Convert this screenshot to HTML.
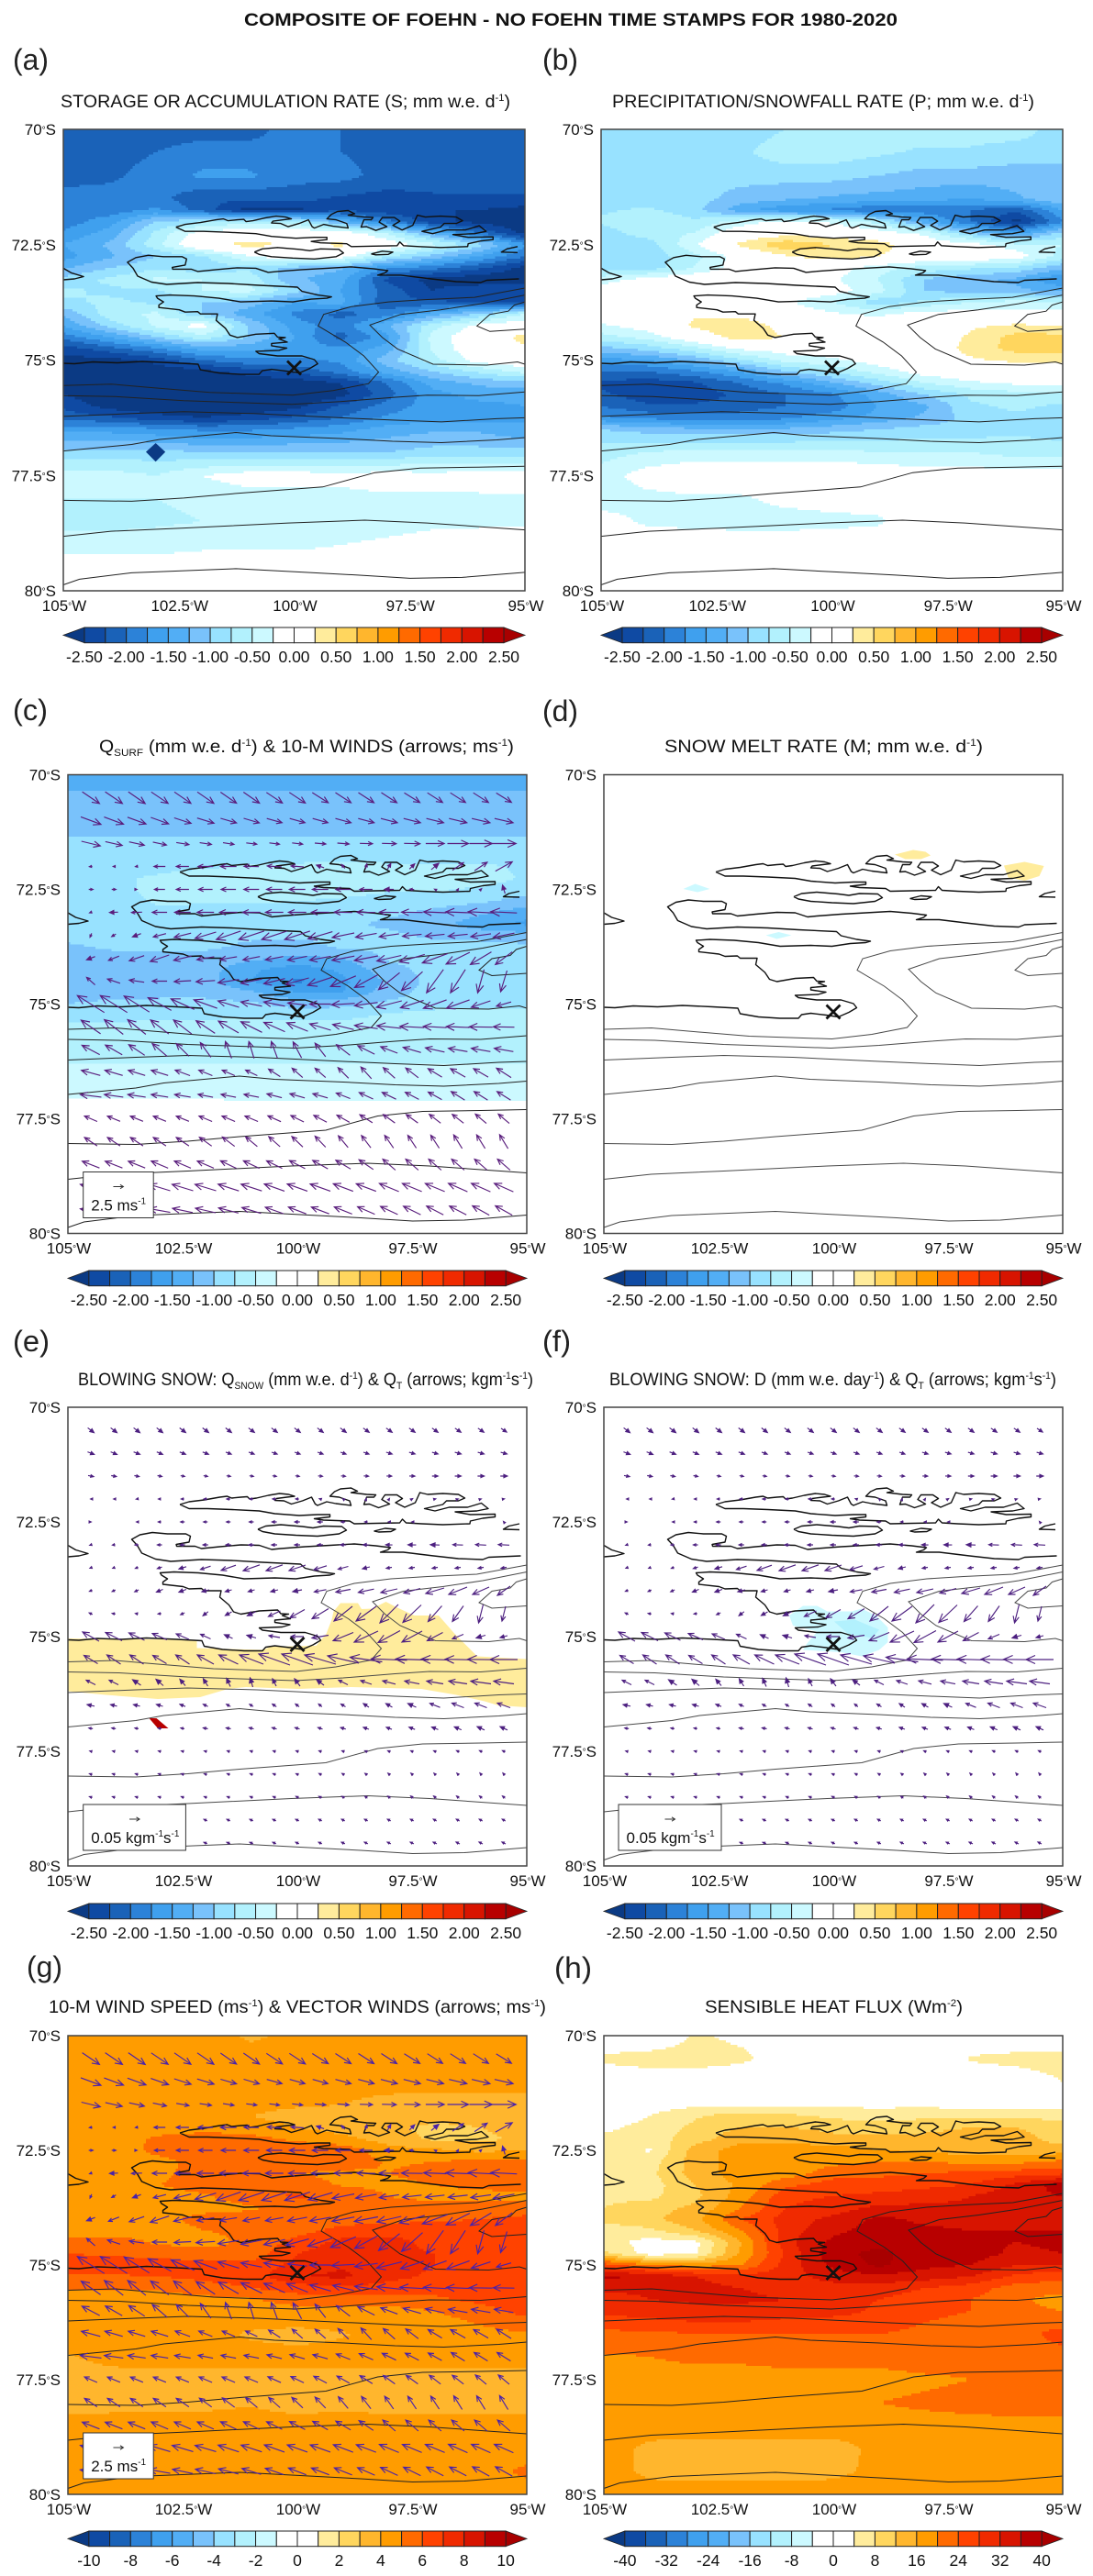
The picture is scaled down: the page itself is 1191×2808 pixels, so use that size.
<!DOCTYPE html>
<html lang="en">
<head>
<meta charset="utf-8">
<title>Composite of Foehn - No Foehn Time Stamps</title>
<style>
html,body{margin:0;padding:0;background:#fff;}
svg{display:block;font-family:"Liberation Sans",sans-serif;}
.ttl{font-size:19.5px;fill:#111;}
.sm{font-size:11px;}
.plbl{font-size:32px;fill:#222;}
</style>
</head>
<body>
<svg id="figure" xmlns="http://www.w3.org/2000/svg" width="1191" height="2808" viewBox="0 0 1191 2808">
<rect x="0" y="0" width="1191" height="2808" fill="#fff"/>
<text x="266" y="28" font-size="19.5" font-weight="bold" fill="#111" textLength="712" lengthAdjust="spacingAndGlyphs">COMPOSITE OF FOEHN - NO FOEHN TIME STAMPS FOR 1980-2020</text>

<text class="plbl" x="14" y="76" textLength="39" lengthAdjust="spacingAndGlyphs">(a)</text>
<text class="plbl" x="591" y="76" textLength="39" lengthAdjust="spacingAndGlyphs">(b)</text>
<text class="plbl" x="14" y="785" textLength="38" lengthAdjust="spacingAndGlyphs">(c)</text>
<text class="plbl" x="591" y="786" textLength="39" lengthAdjust="spacingAndGlyphs">(d)</text>
<text class="plbl" x="14" y="1473" textLength="40" lengthAdjust="spacingAndGlyphs">(e)</text>
<text class="plbl" x="591" y="1473" textLength="31" lengthAdjust="spacingAndGlyphs">(f)</text>
<text class="plbl" x="29" y="2155" textLength="39" lengthAdjust="spacingAndGlyphs">(g)</text>
<text class="plbl" x="604" y="2156" textLength="41" lengthAdjust="spacingAndGlyphs">(h)</text>

<text class="ttl" x="66" y="117" textLength="490" lengthAdjust="spacingAndGlyphs">STORAGE OR ACCUMULATION RATE (S; mm w.e. d<tspan class="sm" dy="-7">-1</tspan><tspan dy="7">)</tspan></text>
<text class="ttl" x="667" y="117" textLength="460" lengthAdjust="spacingAndGlyphs">PRECIPITATION/SNOWFALL RATE (P; mm w.e. d<tspan class="sm" dy="-7">-1</tspan><tspan dy="7">)</tspan></text>
<text class="ttl" x="108" y="820" textLength="452" lengthAdjust="spacingAndGlyphs">Q<tspan class="sm" dy="4">SURF</tspan><tspan dy="-4"> (mm w.e. d</tspan><tspan class="sm" dy="-7">-1</tspan><tspan dy="7">) &amp; 10-M WINDS (arrows; ms</tspan><tspan class="sm" dy="-7">-1</tspan><tspan dy="7">)</tspan></text>
<text class="ttl" x="724" y="820" textLength="347" lengthAdjust="spacingAndGlyphs">SNOW MELT RATE (M; mm w.e. d<tspan class="sm" dy="-7">-1</tspan><tspan dy="7">)</tspan></text>
<text class="ttl" x="85" y="1510" textLength="496" lengthAdjust="spacingAndGlyphs">BLOWING SNOW: Q<tspan class="sm" dy="4">SNOW</tspan><tspan dy="-4"> (mm w.e. d</tspan><tspan class="sm" dy="-7">-1</tspan><tspan dy="7">) &amp; Q</tspan><tspan class="sm" dy="4">T</tspan><tspan dy="-4"> (arrows; kgm</tspan><tspan class="sm" dy="-7">-1</tspan><tspan dy="7">s</tspan><tspan class="sm" dy="-7">-1</tspan><tspan dy="7">)</tspan></text>
<text class="ttl" x="664" y="1510" textLength="487" lengthAdjust="spacingAndGlyphs">BLOWING SNOW: D (mm w.e. day<tspan class="sm" dy="-7">-1</tspan><tspan dy="7">) &amp; Q</tspan><tspan class="sm" dy="4">T</tspan><tspan dy="-4"> (arrows; kgm</tspan><tspan class="sm" dy="-7">-1</tspan><tspan dy="7">s</tspan><tspan class="sm" dy="-7">-1</tspan><tspan dy="7">)</tspan></text>
<text class="ttl" x="53" y="2194" textLength="542" lengthAdjust="spacingAndGlyphs">10-M WIND SPEED (ms<tspan class="sm" dy="-7">-1</tspan><tspan dy="7">) &amp; VECTOR WINDS (arrows; ms</tspan><tspan class="sm" dy="-7">-1</tspan><tspan dy="7">)</tspan></text>
<text class="ttl" x="768" y="2194" textLength="281" lengthAdjust="spacingAndGlyphs">SENSIBLE HEAT FLUX (Wm<tspan class="sm" dy="-7">-2</tspan><tspan dy="7">)</tspan></text>
</svg>

<script>
/* ---------- axis data ---------- */
const gridLons = [105,104,103,102,101,100,99,98,97,96,95];
const gridLats = [70,70.5,71,71.5,71.75,72,72.25,72.5,72.75,73,73.25,73.5,73.75,74,74.25,74.5,74.75,75,75.25,75.5,75.75,76,76.25,76.5,77,77.5,78,78.5,79,79.5,80];
const vectorLons = [104.5,104,103.5,103,102.5,102,101.5,101,100.5,100,99.5,99,98.5,98,97.5,97,96.5,96,95.5];
const vectorLats = [70.5,71,71.5,72,72.5,73,73.5,74,74.5,75,75.5,76,76.5,77,77.5,78,78.5,79,79.5];
const lonTicks = [105,102.5,100,97.5,95];
const lonTickLabels = ['105','102.5','100','97.5','95'];
const latTicks = [70,72.5,75,77.5,80];
const latTickLabels = ['70','72.5','75','77.5','80'];
const massBarTicks = [-2.5,-2,-1.5,-1,-0.5,0,0.5,1,1.5,2,2.5];
const massBarLabels = ['-2.50','-2.00','-1.50','-1.00','-0.50','0.00','0.50','1.00','1.50','2.00','2.50'];
const speedBarTicks = [-10,-8,-6,-4,-2,0,2,4,6,8,10];
const speedBarLabels = ['-10','-8','-6','-4','-2','0','2','4','6','8','10'];
const heatBarTicks = [-40,-32,-24,-16,-8,0,8,16,24,32,40];
const heatBarLabels = ['-40','-32','-24','-16','-8','0','8','16','24','32','40'];
const bandColors = ['#0b3a84','#0f4aa3','#1a62b8','#2c82d8','#3fa0ee','#52aef5','#79c2fb','#98e2ff','#b2f1fd','#ccf9ff','#ffffff','#ffffff','#ffec9c','#ffd65e','#ffb62d','#ff9c00','#ff6a00','#ff4200','#f02a00','#d81400','#b80000','#a80000'];

/* ---------- S : storage / accumulation rate ---------- */
const fieldS = [
[-2.1,-2.1,-2.1,-2.1,-2.1,-1.9,-2.0,-2.1,-2.1,-2.1,-2.1],
[-2.1,-2.1,-2.0,-1.9,-1.9,-1.9,-2.0,-2.1,-2.1,-2.1,-2.1],
[-2.1,-2.05,-1.9,-1.7,-1.7,-1.9,-1.9,-2.1,-2.1,-2.1,-2.1],
[-1.9,-1.9,-1.9,-2.2,-2.2,-2.15,-2.3,-2.35,-2.3,-2.3,-2.3],
[-1.9,-1.9,-1.7,-2.1,-2.6,-2.6,-2.3,-2.4,-2.5,-2.5,-2.6],
[-1.9,-1.6,-1.0,-0.8,-0.6,-0.6,-1.3,-1.9,-2.4,-2.6,-2.7],
[-1.7,-1.4,-0.7,-0.1,0,0,0,-0.5,-1.3,-2.0,-2.6],
[-1.5,-1.2,-0.6,0.1,0.35,0.2,0.3,0,-0.4,-0.9,-1.7],
[-1.6,-1.3,-1.0,-0.8,-0.3,0,-0.1,-0.7,-1.1,-1.5,-2.0],
[-1.3,-1.0,-0.8,-0.9,-0.8,-1.1,-1.2,-1.7,-1.9,-2.2,-2.6],
[-0.9,-0.7,-0.45,-0.5,-0.6,-1.2,-1.4,-2.3,-2.6,-2.7,-2.7],
[-0.7,-0.8,-0.8,-0.5,-0.4,-0.9,-1.5,-2.1,-2.5,-2.3,-2.3],
[-0.8,-0.7,-0.8,-1.0,-1.1,-1.5,-1.4,-2.2,-2.2,-2.3,-2.4],
[-1.2,-0.6,-0.45,-1.0,-1.4,-1.8,-2.1,-1.9,-1.4,-1.0,-0.5],
[-1.5,-0.9,-0.45,-0.1,-1.0,-1.6,-1.9,-1.3,-0.6,-0.15,0],
[-1.9,-1.5,-1.0,-0.6,-1.0,-1.5,-2.1,-1.6,-0.4,0,0.35],
[-2.4,-2.1,-1.8,-1.4,-1.4,-1.6,-1.7,-1.4,-0.45,0,0.2],
[-2.6,-2.6,-2.4,-2.0,-1.8,-1.8,-1.7,-1.1,-0.6,-0.1,0],
[-2.7,-2.7,-2.7,-2.6,-2.4,-2.2,-1.9,-1.4,-1.0,-0.7,-0.4],
[-2.7,-2.7,-2.7,-2.7,-2.7,-2.7,-2.5,-2.0,-1.4,-1.2,-1.1],
[-2.5,-2.7,-2.7,-2.7,-2.7,-2.7,-2.6,-2.1,-1.6,-1.4,-1.4],
[-2.3,-2.6,-2.7,-2.7,-2.7,-2.6,-2.2,-1.9,-1.6,-1.6,-1.5],
[-2.1,-2.2,-2.4,-2.5,-2.4,-2.2,-2.0,-1.7,-1.6,-1.6,-1.5],
[-1.6,-1.6,-1.7,-1.8,-1.8,-1.7,-1.6,-1.4,-1.3,-1.3,-1.5],
[-0.9,-0.9,-0.9,-1.0,-1.0,-1.0,-1.0,-1.0,-0.9,-0.9,-0.9],
[-0.4,-0.4,-0.5,-0.25,-0.1,-0.1,-0.15,-0.1,-0.15,-0.1,-0.1],
[-0.5,-0.5,-0.5,-0.45,-0.4,-0.4,-0.35,-0.3,-0.3,-0.3,-0.3],
[-0.6,-0.6,-0.55,-0.5,-0.45,-0.45,-0.4,-0.35,-0.3,-0.3,-0.3],
[-0.35,-0.35,-0.35,-0.3,-0.3,-0.3,-0.25,-0.2,-0.15,-0.1,-0.1],
[-0.1,-0.1,-0.1,-0.1,-0.1,-0.1,-0.1,-0.1,-0.1,-0.1,-0.1],
[0,0,0,0,0,0,0,0,0,0,0]];

/* ---------- P : precipitation / snowfall ---------- */
const fieldP = [
[-0.9,-0.9,-0.9,-0.9,-0.75,-0.6,-0.6,-0.6,-0.6,-0.6,-0.9],
[-0.9,-0.9,-0.9,-0.8,-0.6,-0.6,-0.7,-0.8,-0.8,-0.9,-0.9],
[-0.9,-0.9,-0.9,-0.9,-0.9,-0.9,-1.0,-1.1,-1.1,-1.1,-1.1],
[-0.9,-0.9,-0.9,-1.1,-1.2,-1.3,-1.35,-1.4,-1.5,-1.3,-1.0],
[-0.8,-0.7,-0.9,-1.4,-1.7,-1.8,-2.0,-1.9,-2.0,-2.2,-1.5],
[-0.7,-0.5,-0.7,-0.4,-0.1,-0.3,-0.6,-1.4,-2.0,-2.6,-1.8],
[-0.9,-0.6,-0.5,0,0.1,0.1,-0.1,-0.3,-1.0,-1.6,-0.9],
[-1.0,-0.9,-0.3,0.3,0.7,0.5,0.4,0,-0.1,-0.4,-0.5],
[-0.9,-0.9,-0.6,-0.1,0.2,0.4,0.25,0,0,-0.1,-0.6],
[-0.8,-0.9,-0.5,-0.1,0,-0.1,-0.4,-0.6,-0.7,-0.8,-1.2],
[-0.4,-0.1,0,0,0,-0.2,-0.5,-1.0,-1.2,-1.3,-1.8],
[0,0,0,0,0,-0.1,-0.4,-1.0,-1.1,-1.2,-1.3],
[0,0,0,0,-0.2,-0.5,-0.9,-0.7,-0.5,-0.4,-0.5],
[0,0,0.2,0.1,0,-0.2,-0.3,-0.1,-0.1,-0.1,-0.1],
[-0.3,-0.1,0.3,0.5,0.1,0,-0.1,0,0.2,0.3,0.25],
[-0.6,-0.4,0,0.4,0.25,0,-0.1,0,0.3,0.6,0.6],
[-1.1,-0.9,-0.6,-0.2,-0.1,-0.1,0,0,0.35,0.6,0.6],
[-1.6,-1.5,-1.2,-0.8,-0.4,-0.3,-0.1,0,0.2,0.3,0.3],
[-2.0,-2.0,-1.8,-1.5,-1.0,-0.7,-0.4,-0.1,0,0,0],
[-2.3,-2.4,-2.3,-2.0,-1.7,-1.3,-0.9,-0.5,-0.3,-0.2,-0.1],
[-2.2,-2.4,-2.4,-2.2,-2.0,-1.8,-1.4,-1.0,-0.7,-0.6,-0.6],
[-2.0,-2.2,-2.2,-2.1,-2.0,-1.9,-1.5,-1.3,-0.8,-0.7,-0.8],
[-1.7,-1.8,-1.9,-1.9,-1.8,-1.6,-1.4,-1.2,-0.9,-0.8,-0.9],
[-1.0,-1.1,-1.2,-1.2,-1.2,-1.1,-1.0,-0.9,-0.9,-0.8,-0.9],
[-0.6,-0.5,-0.4,-0.4,-0.4,-0.4,-0.5,-0.5,-0.5,-0.6,-0.6],
[-0.4,-0.1,0,0,0,0,0,-0.1,-0.1,-0.1,-0.1],
[-0.4,-0.35,-0.3,-0.3,-0.15,-0.1,-0.1,-0.05,0,0,0],
[-0.1,-0.3,-0.35,-0.4,-0.4,-0.35,-0.3,0,0,0,0],
[0,0,0,0,0,0,0,0,0,0,0],
[0,0,0,0,0,0,0,0,0,0,0],
[0,0,0,0,0,0,0,0,0,0,0]];

/* ---------- Qsurf ---------- */
const fieldQsurf = [
[-1.4,-1.4,-1.4,-1.4,-1.4,-1.4,-1.4,-1.4,-1.4,-1.4,-1.4],
[-1.2,-1.2,-1.2,-1.2,-1.2,-1.2,-1.2,-1.2,-1.2,-1.2,-1.2],
[-1.1,-1.1,-1.1,-1.1,-1.1,-1.1,-1.1,-1.1,-1.1,-1.1,-1.1],
[-0.95,-0.95,-0.95,-0.95,-0.95,-0.95,-0.95,-0.95,-0.95,-0.95,-0.95],
[-0.9,-0.9,-0.9,-0.9,-0.9,-0.9,-0.9,-0.9,-0.9,-0.9,-0.9],
[-0.9,-0.9,-0.85,-0.8,-0.7,-0.7,-0.6,-0.7,-0.7,-0.7,-0.8],
[-0.9,-0.8,-0.7,-0.55,-0.55,-0.5,-0.5,-0.6,-0.6,-0.6,-0.8],
[-0.9,-0.9,-0.6,-0.6,-0.6,-0.55,-0.6,-0.7,-0.7,-0.8,-0.9],
[-0.9,-0.9,-0.7,-0.7,-0.7,-0.75,-0.8,-0.9,-0.9,-0.95,-1.1],
[-0.95,-0.9,-0.8,-0.9,-0.9,-0.9,-0.9,-0.95,-1.05,-1.2,-1.4],
[-0.9,-0.9,-0.9,-0.95,-0.95,-0.95,-0.95,-1.05,-1.15,-1.4,-1.55],
[-0.9,-0.85,-0.9,-0.95,-0.95,-0.95,-0.95,-0.95,-1.05,-1.1,-1.15],
[-1.05,-0.95,-0.95,-0.95,-1.05,-1.1,-0.95,-0.95,-0.9,-0.9,-0.95],
[-1.1,-1.1,-1.05,-1.1,-1.2,-1.3,-1.25,-0.95,-0.9,-0.85,-0.85],
[-1.1,-1.1,-1.1,-1.15,-1.45,-1.65,-1.45,-1.1,-0.9,-0.85,-0.85],
[-1.1,-1.1,-1.1,-1.15,-1.5,-1.8,-1.55,-1.2,-0.9,-0.85,-0.85],
[-1.15,-1.15,-1.1,-1.1,-1.2,-1.5,-1.5,-1.1,-0.9,-0.85,-0.85],
[-1.0,-0.9,-0.9,-0.9,-0.95,-1.1,-1.05,-0.95,-0.9,-0.85,-0.85],
[-0.85,-0.85,-0.8,-0.8,-0.8,-0.85,-0.85,-0.7,-0.6,-0.6,-0.65],
[-0.7,-0.7,-0.65,-0.65,-0.6,-0.6,-0.6,-0.55,-0.55,-0.55,-0.6],
[-0.6,-0.6,-0.6,-0.6,-0.6,-0.6,-0.6,-0.6,-0.6,-0.6,-0.6],
[-0.55,-0.55,-0.55,-0.55,-0.55,-0.55,-0.55,-0.55,-0.55,-0.55,-0.55],
[-0.52,-0.52,-0.52,-0.52,-0.52,-0.52,-0.52,-0.52,-0.52,-0.52,-0.52],
[-0.4,-0.4,-0.4,-0.4,-0.4,-0.4,-0.4,-0.4,-0.4,-0.4,-0.4],
[-0.27,-0.27,-0.27,-0.29,-0.3,-0.3,-0.3,-0.3,-0.3,-0.3,-0.3],
[0,0,0,0,0,0,0,0,0,0,0],
[0,0,0,0,0,0,0,0,0,0,0],
[0,0,0,0,0,0,0,0,0,0,0],
[0,0,0,0,0,0,0,0,0,0,0],
[0,0,0,0,0,0,0,0,0,0,0],
[0,0,0,0,0,0,0,0,0,0,0]];

/* ---------- 10-m wind speed ---------- */
const fieldSpeed = [
[4.5,4.5,4.5,4.5,3.8,4.3,4.5,4.5,4.5,4.5,4.5],
[4.5,4.5,4.5,4.5,4.5,4.5,4.5,4.5,4.5,4.5,4.5],
[4.5,4.5,4.5,4.5,4.5,4.5,4.5,4.5,4.5,4.5,4.5],
[4.5,4.5,4.5,4.5,4.4,4.2,4.0,3.6,3.5,3.5,3.5],
[4.5,4.5,4.5,4.5,4.0,3.5,3.5,3.5,3.5,3.5,3.5],
[4.5,4.5,4.5,4.5,4.5,4.0,3.5,3.2,2.7,3.0,3.5],
[4.5,4.5,5.2,5.6,5.3,4.8,4.3,3.5,2.8,2.7,3.3],
[4.5,4.5,5.3,5.8,6.0,5.7,5.6,4.4,4.2,3.8,4.0],
[4.5,4.5,4.7,5.4,5.4,5.6,5.5,4.9,5.0,5.3,5.3],
[4.5,4.5,4.8,5.4,5.2,5.0,4.8,5.0,5.3,5.7,5.8],
[4.5,4.5,5.0,5.4,5.5,5.4,4.9,4.8,5.0,5.3,5.6],
[4.4,4.4,4.6,4.9,5.6,6.2,5.6,5.0,4.7,4.6,4.7],
[4.4,4.4,4.5,4.5,4.9,5.3,5.0,5.3,5.5,5.5,5.6],
[4.4,4.4,4.6,5.5,5.4,5.3,5.5,5.7,5.8,6.0,6.2],
[4.4,4.5,4.4,5.0,5.2,5.6,6.4,6.6,6.6,6.8,6.9],
[5.5,5.5,4.8,4.7,5.2,6.4,7.3,7.4,6.6,6.7,7.0],
[6.0,5.8,5.6,5.3,5.4,7.0,7.6,7.4,7.0,6.9,7.0],
[6.6,6.6,6.5,6.4,6.4,7.3,7.9,7.4,7.0,6.9,7.0],
[5.8,5.9,6.0,6.3,6.5,8.0,8.2,7.3,6.8,6.8,7.0],
[5.2,5.2,5.2,5.6,6.0,6.5,6.8,6.6,6.4,6.6,6.8],
[4.5,4.5,4.5,4.7,4.9,5.5,5.6,5.4,5.8,6.3,6.6],
[4.5,4.5,4.5,4.5,4.5,4.6,4.6,4.7,5.0,5.6,6.4],
[4.5,4.5,4.5,4.5,4.5,4.4,4.6,4.6,4.6,5.1,5.6],
[4.5,4.5,4.5,4.5,3.8,3.5,3.9,4.4,4.6,4.7,4.9],
[3.9,4.4,4.5,4.5,4.5,4.5,4.5,4.5,4.5,4.5,4.5],
[3.5,3.5,3.5,3.5,3.5,3.5,3.5,3.5,3.5,3.5,3.5],
[3.5,3.6,3.6,3.7,3.9,3.5,3.7,3.5,3.5,3.5,3.5],
[4.5,4.5,4.5,4.5,4.5,4.5,4.5,4.5,4.5,4.5,4.5],
[4.5,4.5,4.5,4.5,4.5,4.5,4.5,4.5,4.5,4.5,4.5],
[4.5,4.5,4.5,4.5,4.5,4.5,4.5,4.5,4.5,4.6,5.2],
[4.5,4.5,4.5,4.5,4.5,4.5,4.5,4.5,4.5,4.5,4.5]];

/* ---------- sensible heat flux ---------- */
const fieldHeat = [
[0,0,4.5,3,0,0,0,0,0,0,0],
[5,6,6,5,1,0,0,0,4.5,5.5,6],
[0,1,1,0,0,0,0,0,0,1,4],
[1,2,3,3,3,3,3,3,2,2,2],
[1,4,7.5,10,9,7,6,7,7,7,7],
[3,5.5,9,12,12,11,10,11,12,12,9],
[5,6,10,15,15,13,13,13,14,14,10],
[6,3.5,14,18,18,18,16,15,14,14,14],
[5.5,6,14,18,18,19,20,20,19,19,21],
[5,7,14,18,18,22,23,24,25,26,27],
[5,6,12,17,23,26,26,27,28,33,38],
[7,7,11,18,27,28,29,30,32,35,36],
[8,10,13,20,28,30,33,33,33,34,33],
[9,11,15,24,30,33,37,35,34,34,34],
[6,7,12,20,30,35,38,37,36,36,36],
[6,2,3,16,31,37,39,37,37,36,37],
[9,2,3,17,29,39,41,38,38,35,36],
[26,20,18,20,30,37,41,37,36,32,32],
[37,35,32,30,30,34,35,34,32,27,25],
[33,33,33,32,30,30,30,28,26,22,22],
[30,32,33,33,32,30,28,26,24,21,18],
[29,30,30,30,30,30,27,25,24,21,20],
[26,27,28,28,27,26,26,24,23,22,22],
[23,23,24,24,24,24,24,23,23,22,26],
[19.5,20,21,21,22,22,22,23,22,22,22],
[18,18,18,18,18,18,18,19,20,22,22],
[18,18,18,18,18,18,20,21,22,23,23],
[18,18,18,18,18,18,18,18,18,18,18],
[18,15,14.5,14.5,14.5,14.5,17,18,18,18,18],
[18,15,14.5,14.5,14.5,15,17,18,18,18,18],
[18,18,18,18,18,18,18,18,18,18,18]];

/* ---------- isolated patches: value + [lonW, latS] outline ---------- */
const accumulationDiamond = [[103.21,76.99],[103,76.8],[102.79,76.99],[103,77.2]];
const accumulationDiamondValue = -2.7;
const meltPatchA = [[98.66,71.74],[98.26,71.64],[97.99,71.68],[97.88,71.76],[98.09,71.84],[98.43,71.84]];
const meltPatchB = [[96.28,71.98],[95.83,71.9],[95.41,71.99],[95.51,72.21],[95.83,72.31],[96.19,72.24]];
const meltPatchC = [[103.27,72.49],[103.01,72.38],[102.69,72.49],[102.96,72.56]];
const meltPatchD = [[101.47,73.5],[101.19,73.43],[100.91,73.5],[101.23,73.58]];
const meltPatchAValue = 0.4, meltPatchBValue = 0.4, meltPatchCValue = -0.4, meltPatchDValue = -0.4;
const qsnowBand = [[105,75.04],[102.19,75.07],[102.19,75.25],[100.74,75.29],[100.59,75.22],[99.59,75.2],[99.37,74.94],[99.25,74.63],[99.21,74.45],[99.06,74.27],[98.68,74.27],[98.6,74.4],[98.37,74.39],[98.07,74.24],[97.84,74.36],[97.45,74.54],[96.92,74.54],[96.57,74.94],[96.08,75.43],[95,75.49],[95,76.54],[95.62,76.5],[95.92,76.41],[96.54,76.27],[97.3,76.14],[98.83,76.1],[99.98,76.14],[101.12,76.1],[101.51,76.14],[102.12,76.32],[103.04,76.36],[104.18,76.27],[105,76.19]];
const qsnowBandValue = 0.4;
const qsnowStreak = [[103.23,76.78],[103.07,76.78],[102.81,77],[103.04,77]];
const qsnowStreakValue = 2.4;
const driftBlob = [[100.96,74.54],[100.66,74.33],[100.35,74.33],[100.13,74.45],[99.6,74.45],[99.38,74.39],[99.07,74.54],[98.81,74.8],[98.81,75.12],[99,75.29],[99.38,75.43],[99.83,75.34],[100.66,75.29],[100.58,75.16],[100.35,74.89],[100.88,74.76]];
const driftBlobValue = -0.4;
const driftCore = [[99.98,74.67],[99.53,74.63],[99,74.85],[99.15,75.03],[99.68,74.94]];
const driftCoreValue = -0.6;

/* ---------- coastlines and topography: [lonW, latS] ---------- */
const coastNorth = [[102.56,72.12],[102.36,72.06],[102.03,72.02],[101.69,71.96],[101.53,71.94],[101.43,71.98],[101.23,71.96],[101.09,71.95],[101.04,72],[100.89,71.98],[100.63,71.92],[100.39,71.88],[100.19,71.9],[100.06,71.94],[100.23,71.96],[100.46,71.99],[100.49,72.03],[100.29,72.04],[100.13,72.11],[99.89,72.04],[99.69,71.96],[99.61,72.11],[99.56,72.14],[99.36,72.06],[99.16,72.1],[98.83,72.14],[98.86,72.04],[99.09,71.96],[99.29,71.94],[99.19,71.84],[99.06,71.78],[98.83,71.76],[98.69,71.83],[98.83,71.86],[98.49,71.9],[98.29,71.91],[98.33,71.96],[98.49,71.96],[98.55,72.12],[98.43,72.11],[98.23,72.19],[97.99,72.11],[98.16,72.01],[98.09,71.91],[97.83,71.91],[97.71,71.99],[97.86,72.08],[97.66,72.18],[97.43,72.08],[97.33,71.86],[97.16,71.9],[96.83,71.88],[96.49,71.9],[96.35,71.98],[96.49,72.04],[96.75,72.04],[96.83,72.12],[97.23,72.21],[97,72.26],[96.69,72.18],[96.29,72.18],[95.99,72.09],[95.84,72.21],[96.09,72.26],[96.56,72.28],[96.23,72.34],[95.69,72.33],[95.69,72.39],[95.96,72.42],[96.23,72.48],[96.24,72.54],[96.83,72.56],[97.29,72.54],[97.63,72.52],[97.71,72.44],[97.77,72.52],[98.29,72.53],[98.76,72.54],[98.86,72.48],[99.43,72.46],[99.63,72.43],[99.29,72.39],[99.29,72.34],[99.56,72.34],[99.96,72.36],[100.49,72.32],[100.83,72.26],[101.43,72.23],[101.96,72.21],[102.36,72.21],[102.56,72.12]];
const islandInner = [[100.86,72.66],[100.69,72.59],[100.36,72.56],[99.89,72.6],[99.66,72.63],[99.43,72.59],[99.03,72.6],[98.93,72.68],[99.09,72.76],[99.56,72.81],[100.03,72.79],[100.49,72.76],[100.76,72.71],[100.86,72.66]];
const islandSmall = [[98.33,72.7],[98.09,72.64],[97.86,72.66],[97.96,72.71],[98.23,72.72],[98.33,72.7]];
const islandEast = [[95.16,72.54],[95.39,72.59],[95.51,72.66],[95.16,72.67]];
const coastWest = [[105,73.01],[104.83,73.11],[104.56,73.19],[104.76,73.24],[105,73.26]];
const coastMain = [[95.13,73.24],[95.83,73.27],[95.96,73.32],[96.49,73.3],[97.03,73.24],[97.69,73.16],[98.19,73.16],[98.03,73.11],[97.97,73.06],[98.29,73.02],[98.76,72.98],[99.29,73.01],[99.83,73.04],[100.36,73.08],[100.56,73.1],[100.83,73.01],[101.23,73],[101.69,73.04],[102.09,73.08],[102.23,73.03],[102.63,73.03],[102.64,72.99],[102.36,72.94],[102.33,72.81],[102.43,72.76],[102.83,72.76],[103.16,72.73],[103.43,72.78],[103.61,72.88],[103.49,73.01],[103.39,73.18],[103.09,73.31],[102.76,73.36],[102.09,73.32],[101.43,73.34],[100.76,73.38],[99.93,73.42],[99.83,73.51],[99.49,73.59],[99.19,73.63],[99.29,73.66],[99.63,73.68],[100.03,73.74],[100.49,73.72],[101.16,73.74],[101.63,73.66],[102.16,73.61],[102.69,73.59],[102.99,73.61],[102.96,73.66],[102.83,73.74],[102.93,73.81],[102.93,73.86],[102.49,73.91],[102.36,73.96],[102.09,73.95],[102.03,74],[101.66,74],[101.69,74.14],[101.49,74.31],[101.39,74.46],[101.23,74.51],[100.83,74.44],[100.43,74.42],[100.36,74.5],[100.19,74.51],[100.33,74.54],[100.15,74.61],[100.49,74.64],[100.49,74.69],[100.16,74.74],[100.33,74.79],[100.83,74.81],[100.76,74.86],[100.36,74.91],[99.83,74.91],[99.56,74.99],[99.49,75.08],[99.66,75.18],[99.89,75.28],[100.16,75.24],[100.49,75.2],[100.69,75.23],[100.76,75.31],[101.16,75.31],[101.63,75.28],[102.03,75.21],[102.08,75.09],[102.63,75.06],[103.29,75.03],[103.83,75.06],[104.36,75.04],[104.76,75.08],[105,75.07]];
const topoA = [[105,75.55],[103.96,75.52],[103.16,75.59],[101.83,75.7],[100.03,75.76],[99.16,75.66],[98.39,75.51],[98.17,75.26],[98.49,74.91],[98.89,74.61],[99.48,74.26],[99.36,74.01],[98.76,73.84],[97.96,73.74],[97.16,73.69],[96.09,73.64],[95,73.44]];
const topoB = [[95,73.59],[95.96,73.78],[96.83,73.91],[97.69,74.01],[98.36,74.24],[98.09,74.51],[97.76,74.76],[96.99,75.09],[95.83,75.11],[95.16,75.04],[95,75.09]];
const topoC = [[95,73.74],[95.23,73.81],[95.36,73.94],[95.76,74.01],[96.04,74.26],[95.76,74.38],[95,74.33]];
const topoD = [[105,75.77],[103.89,75.79],[102.39,75.88],[100.05,75.96],[99,75.9],[97.87,75.81],[97.12,75.76],[96,75.77],[95,75.69]];
const topoE = [[105,76.22],[103.52,76.16],[102.39,76.12],[100.88,76.16],[99,76.25],[97.87,76.3],[96.81,76.34],[95.61,76.27],[95,76.25]];
const topoF = [[105,76.97],[103.52,76.83],[102.91,76.72],[101.26,76.57],[100.5,76.64],[99,76.7],[97.87,76.76],[96.81,76.79],[95.61,76.73],[95,76.68]];
const topoG = [[105,78.04],[103.52,78.06],[102.39,77.99],[101.26,77.89],[99.38,77.75],[98.25,77.44],[97.27,77.34],[96,77.32],[95,77.3]];
const topoH = [[105,78.82],[103.97,78.71],[102.39,78.64],[100.13,78.53],[98.47,78.47],[97.12,78.53],[95,78.68]];
const topoI = [[105,79.87],[104.65,79.75],[103.52,79.61],[101.26,79.52],[99.75,79.6],[98.62,79.66],[97.49,79.73],[96.36,79.71],[95,79.6]];
const stationMarker = [100,75.17];

/* ---------- 10-m wind vectors (m/s) ---------- */
const uWind = [
[4.1,4.1,4.0,4.0,3.9,3.9,3.8,3.8,3.8,3.8,3.8,3.7,3.7,3.7,3.7,3.6,3.6,3.6,3.6],
[4.8,4.6,4.4,4.2,4.0,4.0,3.8,3.7,3.6,3.6,3.6,3.7,3.8,3.9,4.0,4.1,4.2,4.3,4.4],
[4.5,4.0,3.6,3.2,3.0,2.8,2.6,2.5,2.4,2.5,2.6,2.8,3.0,3.4,3.8,4.4,5.0,5.4,5.8],
[-0.7,-0.3,-0.6,-2.7,-3,-3.5,-3.8,-3.5,-3.4,-3.0,-1.8,-0.8,0.3,0.8,1.2,1.8,2.6,3,4],
[1,1,0.1,-2.5,-3,-3.3,-3.5,-3.6,-3.7,-3.8,-3.8,-3.5,-3,-2.2,-1,-0.2,0.2,0.3,-0.6],
[-0.6,-2,-2.5,-3.5,-3.8,-4,-4.2,-4.2,-4.2,-4.2,-4.2,-4.3,-4.4,-4.6,-5,-5.4,-5.8,-6,-6.2],
[-0.4,-1,-2,-3,-4,-5,-5.8,-6,-6,-6,-5.8,-5.2,-5,-4.7,-4.5,-4.5,-4.6,-4.8,-5],
[-2,-2.5,-3.5,-4.5,-4.2,-4.1,-4,-4,-4.2,-4.6,-5,-5.3,-5.6,-5.8,-6,-6,-5.6,-5,-4],
[-2,-3,-3.5,-3.5,-4,-4.5,-5,-5,-5,-5.5,-6,-6,-5.5,-5,-5,-4,-3.5,-1.5,-1.5],
[-6.4,-6.4,-6,-5.5,-5.5,-5.5,-5,-5,-5,-4.5,-5,-5.5,-5.5,-6,-5.5,-5.5,-5.5,-4.5,-3.5],
[-4.6,-4.5,-4.3,-4.3,-4.3,-4.5,-4.8,-5,-5,-5,-5,-5,-5.5,-5.8,-5.8,-5.5,-5.5,-5.5,-5],
[-4.2,-4,-3.8,-3.5,-3,-2.5,-1.5,-1.2,-1.5,-2,-2.5,-3.2,-4,-4,-4.2,-4.5,-4.5,-4.5,-4.5],
[-4.5,-4.2,-4,-4,-3.5,-3.2,-3,-2.8,-2.8,-2.5,-2.5,-2.5,-2.5,-2.8,-3,-3.3,-3.5,-3.5,-3.5],
[-5,-4.5,-4.2,-4,-3.8,-3.5,-3.5,-3.5,-3.5,-3.5,-3.5,-3.3,-3.3,-3.3,-3.2,-3.2,-3.2,-3.2,-3.2],
[-3,-3,-3,-3,-3,-3.1,-3.1,-3.1,-3.1,-3.1,-3.1,-3,-3,-2.8,-2.8,-2.7,-2.7,-2.6,-2.6],
[-3,-3,-3,-3,-3,-2.9,-2.9,-2.8,-2.7,-2.6,-2.5,-2.3,-2.2,-2.1,-2,-2,-2,-2,-2],
[-4.1,-4.1,-4,-4,-3.9,-3.9,-3.8,-3.8,-3.7,-3.7,-3.6,-3.5,-3.4,-3,-3,-3,-3,-3,-3],
[-5,-5,-5,-5,-5,-5,-4.9,-4.9,-4.8,-4.8,-4.8,-4.7,-4.7,-4.6,-4.6,-4.6,-4.5,-4.5,-4.5],
[-5,-5,-5,-5,-4.8,-4.8,-4.7,-4.5,-4.3,-4.2,-4.2,-4.2,-4.1,-4.1,-4.1,-4,-4,-4,-4]];
const vWind = [
[-2.8,-2.8,-2.8,-2.7,-2.7,-2.7,-2.6,-2.6,-2.5,-2.5,-2.4,-2.4,-2.4,-2.4,-2.3,-2.3,-2.3,-2.3,-2.2],
[-1.8,-1.7,-1.6,-1.5,-1.3,-1.2,-1.1,-1.1,-1,-1,-1,-1,-1,-1,-1,-1,-1,-1,-1],
[-1.1,-0.9,-0.8,-0.7,-0.5,-0.4,-0.4,-0.3,-0.3,-0.3,-0.2,-0.2,-0.1,-0.1,-0.1,0,0,0,0],
[-0.1,0,-0.1,0,0,0,0,0.1,0.2,0.2,0.6,0.9,1.2,1.4,1.2,1.5,1.8,2,2.2],
[0,0,0,0,0,0,0,0,0,0,0,0,0,0,0.1,0.1,0.3,0.3,2],
[-0.2,-0.1,-0.1,0,0,0,0,0,0,0,0,0.1,0.1,0.1,0.1,0.2,0.2,0.3,0.3],
[-0.9,-0.6,-0.8,-0.8,-1,-1.5,-2,-2,-2,-2,-1.7,-1.1,-0.9,-0.7,-0.5,-0.5,-0.5,-0.7,-1],
[-0.8,-1,-1.2,-1.5,-1,-0.7,-0.7,-0.8,-0.8,-0.9,-0.9,-1,-1.1,-1.3,-1.8,-2.2,-2.8,-3,-3],
[1.8,1,0.5,0,-0.2,-0.3,-0.8,-1,-1.2,-1.5,-2,-2.5,-3,-4,-4.5,-5.5,-5.5,-5.5,-5],
[4,4,3.8,3,2.5,2,1.5,1,1,0.5,0,-0.3,-0.8,-1.5,-1.8,-2,-2,-1.5,-1],
[3.2,3.5,3.5,3.3,3.3,3,2.8,2.5,2.2,2,1.5,1.2,0.8,0.6,0.3,0.3,0.2,0.1,0.1],
[2.2,2.3,2.5,3,3,3.5,4,4,4,3.8,3.2,2.5,2,1.5,1.2,1,0.8,0.8,0.8],
[1.2,1.2,1.2,1.2,1.3,1.3,1.3,1.3,1.8,2.2,2.2,2.5,2.8,2.5,2.3,2,2,2,2.2],
[0.6,0.6,0.6,0.6,0.6,0.7,0.7,0.7,0.9,1,1,1.3,1.5,1.6,1.7,1.8,2,2,2],
[1.3,1.2,1.2,1.2,1.2,1.3,1.3,1.3,1.4,1.5,1.6,1.7,1.9,2,2,2.1,2.1,2.2,2.2],
[2,2,2,2,2,2.1,2.2,2.3,2.4,2.5,2.6,2.8,2.9,3,3,3.1,3.2,3.2,3.3],
[1.6,1.6,1.6,1.7,1.7,1.7,1.8,1.8,1.8,1.9,2,2.1,2.3,2.6,2.6,2.6,2.6,2.6,2.6],
[1.5,1.5,1.5,1.5,1.5,1.5,1.6,1.6,1.7,1.7,1.7,1.8,1.8,1.9,1.9,1.9,2,2,2],
[0.8,0.8,0.9,0.9,1,1.1,1.2,1.4,1.5,1.6,1.6,1.7,1.8,1.9,2,2.1,2.1,2.2,2.2]];

/* ---------- blowing-snow transport vectors (10^-3 kg/m/s) ---------- */
const uTrans = [
[34,34,34,33,33,33,32,32,32,32,32,32,32,32,32,32,32,32,30],
[36,34,34,32,32,32,30,30,30,30,30,30,30,32,32,32,34,34,34],
[30,28,26,24,22,22,22,22,22,22,24,24,26,28,30,32,34,36,38],
[-3,-2,-6,-14,-16,-18,-20,-20,-20,-18,-10,-5,2,4,6,8,3,3,6],
[3,1,-3,-16,-22,-22,-22,-24,-26,-28,-28,-22,-16,-8,-3,0,0,1,-4],
[-12,-15,-20,-25,-26,-28,-28,-30,-30,-30,-30,-32,-34,-36,-44,-50,-55,-58,-60],
[-10,-12,-15,-25,-40,-55,-80,-90,-90,-90,-70,-55,-40,-30,-30,-30,-30,-30,-30],
[-15,-18,-22,-35,-40,-40,-35,-35,-40,-50,-65,-80,-85,-90,-90,-100,-100,-90,-70],
[-18,-18,-15,-18,-22,-28,-35,-45,-65,-80,-90,-100,-110,-100,-100,-75,-60,-25,-20],
[-90,-90,-85,-80,-70,-55,-45,-50,-60,-70,-90,-110,-130,-120,-110,-85,-60,-50,-40],
[-75,-75,-75,-75,-75,-90,-105,-130,-170,-170,-170,-170,-175,-195,-180,-150,-140,-145,-150],
[-50,-50,-45,-40,-30,-25,-20,-15,-20,-30,-40,-50,-60,-70,-80,-90,-100,-110,-110],
[-40,-35,-35,-35,-30,-25,-22,-20,-22,-20,-18,-25,-30,-35,-45,-55,-65,-65,-70],
[-22,-22,-20,-18,-20,-25,-25,-25,-25,-25,-25,-28,-30,-30,-32,-35,-38,-40,-40],
[-12,-13,-13,-14,-14,-14,-14,-14,-14,-14,-14,-14,-14,-14,-14,-14,-15,-15,-15],
[-15,-15,-15,-15,-15,-15,-15,-15,-15,-14,-14,-13,-13,-12,-12,-11,-11,-10,-10],
[-15,-15,-15,-15,-15,-15,-15,-15,-15,-15,-15,-15,-15,-15,-15,-15,-15,-15,-15],
[-18,-18,-18,-18,-18,-18,-18,-18,-18,-18,-18,-18,-18,-18,-18,-18,-18,-18,-18],
[-18,-18,-18,-18,-18,-18,-18,-18,-18,-18,-18,-19,-19,-19,-19,-20,-20,-20,-20]];
const vTrans = [
[-26,-26,-26,-26,-25,-25,-25,-24,-24,-24,-24,-24,-23,-23,-23,-23,-22,-22,-20],
[-14,-14,-13,-13,-12,-12,-11,-11,-10,-10,-10,-10,-10,-10,-9,-9,-9,-9,-9],
[-6,-5,-5,-5,-4,-4,-3,-3,-3,-3,-2,-2,-2,-1,-1,0,0,0,0],
[0,0,-1,0,0,0,0,1,1,1,3,4,6,6,4,2,1,1,1],
[0,0,0,0,0,0,0,0,0,0,0,0,0,0,0,0,1,1,5],
[-4,-2,-1,0,0,0,0,0,0,0,0,1,1,1,1,2,2,3,3],
[-4,-5,-6,-8,-12,-18,-28,-32,-32,-30,-22,-15,-10,-5,-5,-5,-5,-5,-5],
[-6,-8,-10,-15,-15,-10,-10,-10,-10,-10,-12,-15,-18,-20,-25,-30,-40,-40,-50],
[8,3,2,-2,-10,-22,-20,-22,-30,-45,-55,-80,-80,-100,-95,-85,-85,-100,-80],
[50,45,40,35,30,25,20,15,10,0,-15,-45,-60,-65,-60,-45,-25,-15,-10],
[45,50,50,45,50,50,50,50,60,60,50,40,25,8,5,4,3,2,0],
[25,25,30,35,35,40,45,50,40,40,30,25,20,18,16,15,15,15,15],
[8,8,8,10,12,12,12,12,15,15,15,15,20,20,20,22,25,25,25],
[3,3,3,3,4,5,5,6,7,7,8,8,10,11,12,14,16,18,18],
[3,3,3,4,4,4,5,5,5,5,5,5,6,6,6,6,7,7,7],
[5,5,5,5,5,5,6,6,6,6,7,8,9,10,10,11,11,12,12],
[5,5,5,5,6,6,6,7,7,8,8,9,10,11,12,12,12,12,12],
[8,8,8,8,8,8,8,8,8,8,9,9,9,9,9,10,10,10,10],
[7,7,7,7,7,7,7,7,8,8,8,8,9,9,9,9,10,10,10]];

/* ---------- drawing ---------- */
const SVGNS = 'http://www.w3.org/2000/svg';
const root = document.getElementById('figure');
function mk(tag, parent){ const n = document.createElementNS(SVGNS, tag); parent.appendChild(n); return n; }

function bandIndex(v, vmax){
  if (v < -vmax) return 0;
  if (v >= vmax) return 21;
  return Math.min(20, 1 + Math.floor((v + vmax) / (vmax / 10) + 1e-9));
}
function bracket(list, q){
  let i = 0;
  if (list[0] < list[list.length - 1]) { while (i < list.length - 2 && q > list[i + 1]) i++; }
  else { while (i < list.length - 2 && q < list[i + 1]) i++; }
  return [i, (q - list[i]) / (list[i + 1] - list[i])];
}
function sample(field, lon, lat){
  const [c, fc] = bracket(gridLons, lon);
  const [r, fr] = bracket(gridLats, lat);
  const a = field[r][c], b = field[r][c + 1], d = field[r + 1][c], e = field[r + 1][c + 1];
  return (a * (1 - fc) + b * fc) * (1 - fr) + (d * (1 - fc) + e * fc) * fr;
}

function drawPanel(cfg){
  const g = mk('g', root);
  
  
  const xs = lon => cfg.x + (105 - lon) / 10 * cfg.size;
  const ys = lat => cfg.y + (lat - 70) / 10 * cfg.size;
  const ptsAttr = pts => pts.map(p => xs(p[0]).toFixed(1) + ',' + ys(p[1]).toFixed(1)).join(' ');

  /* filled field, row runs of equal colour band */
  if (cfg.field) {
    const fg = mk('g', g);
    
    
    fg.setAttribute('shape-rendering', 'crispEdges');
    const N = 200, cell = cfg.size / N;
    for (let r = 0; r < N; r++) {
      const lat = 70 + (r + 0.5) / N * 10;
      let start = 0, cur = -1;
      for (let c = 0; c <= N; c++) {
        const idx = c < N ? bandIndex(sample(cfg.field, 105 - (c + 0.5) / N * 10, lat), cfg.vmax) : -2;
        if (idx !== cur) {
          if (cur >= 0 && bandColors[cur] !== '#ffffff') {
            const rc = mk('rect', fg);
            
            
            rc.setAttribute('x', (cfg.x + start * cell).toFixed(2));
            rc.setAttribute('y', (cfg.y + r * cell).toFixed(2));
            rc.setAttribute('width', ((c - start) * cell + 0.3).toFixed(2));
            rc.setAttribute('height', (cell + 0.3).toFixed(2));
            rc.setAttribute('fill', bandColors[cur]);
          }
          start = c; cur = idx;
        }
      }
    }
  }

  /* isolated patches */
  (cfg.patches || []).forEach(p => {
    const pg = mk('polygon', g);
    
    
    pg.setAttribute('points', ptsAttr(p.pts));
    pg.setAttribute('fill', bandColors[bandIndex(p.value, cfg.vmax)]);
  });

  /* topography contours */
  [topoA, topoB, topoC, topoD, topoE, topoF, topoG, topoH, topoI].forEach(line => {
    const l = mk('polyline', g);
    
    
    l.setAttribute('points', ptsAttr(line));
    l.setAttribute('fill', 'none');
    l.setAttribute('stroke', cfg.field ? '#222' : '#4a4a4a');
    l.setAttribute('stroke-width', '1');
  });
  /* coastlines */
  [coastNorth, islandInner, islandSmall, islandEast, coastWest, coastMain].forEach(line => {
    const l = mk('polyline', g);
    
    
    l.setAttribute('points', ptsAttr(line));
    l.setAttribute('fill', 'none');
    l.setAttribute('stroke', '#111');
    l.setAttribute('stroke-width', '1.4');
    l.setAttribute('stroke-linejoin', 'round');
  });

  /* vectors */
  if (cfg.u) {
    const vg = mk('g', g);
    
    
    vectorLats.forEach((lat, r) => vectorLons.forEach((lon, c) => {
      const u = cfg.u[r][c] * cfg.pxPerUnit, v = -cfg.v[r][c] * cfg.pxPerUnit;
      const len = Math.hypot(u, v);
      if (len < 0.4) return;
      const cx = xs(lon), cy = ys(lat), ux = u / len, uy = v / len;
      const tx = cx + u / 2, ty = cy + v / 2, hx = cx - u / 2, hy = cy - v / 2;
      const small = len < 11;
      const hl = small ? Math.max(len * 0.55, 2.4) : Math.min(11, len * 0.38);
      const ca = Math.cos(0.42), sa = Math.sin(0.42);
      const b1x = tx - hl * (ux * ca - uy * sa), b1y = ty - hl * (uy * ca + ux * sa);
      const b2x = tx - hl * (ux * ca + uy * sa), b2y = ty - hl * (uy * ca - ux * sa);
      const a = mk('path', vg);
      
      
      a.setAttribute('d', `M${hx.toFixed(1)} ${hy.toFixed(1)}L${tx.toFixed(1)} ${ty.toFixed(1)}M${b1x.toFixed(1)} ${b1y.toFixed(1)}L${tx.toFixed(1)} ${ty.toFixed(1)}L${b2x.toFixed(1)} ${b2y.toFixed(1)}` + (small ? 'Z' : ''));
      a.setAttribute('fill', small ? cfg.arrowColor : 'none');
      a.setAttribute('stroke', cfg.arrowColor);
      a.setAttribute('stroke-width', '1.15');
    }));
  }

  /* station marker */
  const mx = xs(stationMarker[0]), my = ys(stationMarker[1]);
  const mark = mk('path', g);
  
  
  mark.setAttribute('d', `M${mx - 7.5} ${my - 7.5}L${mx + 7.5} ${my + 7.5}M${mx - 7.5} ${my + 7.5}L${mx + 7.5} ${my - 7.5}`);
  mark.setAttribute('stroke', '#111');
  mark.setAttribute('stroke-width', '2.8');
  mark.setAttribute('fill', 'none');

  /* reference-vector legend */
  if (cfg.legend) {
    const lg = mk('g', g);
    
    
    const lx = cfg.x + cfg.legend.dx, lw = cfg.legend.w, lh = 50;
    const ly = cfg.y + cfg.size - 17 - lh;
    const box = mk('rect', lg);
    
    
    box.setAttribute('x', lx); box.setAttribute('y', ly);
    box.setAttribute('width', lw); box.setAttribute('height', lh);
    box.setAttribute('fill', '#fff'); box.setAttribute('stroke', '#333'); box.setAttribute('stroke-width', '1');
    const acx = lx + lw / 2, acy = ly + 16;
    const ar = mk('path', lg);
    
    
    ar.setAttribute('d', `M${acx - 5.5} ${acy}L${acx + 5.5} ${acy}M${acx + 2} ${acy - 2.2}L${acx + 5.5} ${acy}L${acx + 2} ${acy + 2.2}`);
    ar.setAttribute('stroke', '#333'); ar.setAttribute('fill', 'none'); ar.setAttribute('stroke-width', '1');
    const tx = mk('text', lg);
    
    
    tx.setAttribute('x', lx + 8.5); tx.setAttribute('y', ly + 42);
    tx.setAttribute('font-size', '17'); tx.setAttribute('fill', '#111');
    tx.innerHTML = cfg.legend.html;
  }

  /* frame */
  const fr = mk('rect', g);
  
  
  fr.setAttribute('x', cfg.x); fr.setAttribute('y', cfg.y);
  fr.setAttribute('width', cfg.size); fr.setAttribute('height', cfg.size);
  fr.setAttribute('fill', 'none'); fr.setAttribute('stroke', '#444'); fr.setAttribute('stroke-width', '1.5');

  /* ticks */
  latTicks.forEach((lat, i) => {
    const t = mk('text', g);
    
    
    t.setAttribute('x', cfg.x - 8); t.setAttribute('y', ys(lat) + 6);
    t.setAttribute('text-anchor', 'end'); t.setAttribute('font-size', '17'); t.setAttribute('fill', '#111');
    t.innerHTML = latTickLabels[i] + '<tspan font-size="10" dy="-2">°</tspan><tspan dy="2">S</tspan>';
  });
  lonTicks.forEach((lon, i) => {
    const t = mk('text', g);
    
    
    t.setAttribute('x', xs(lon) + 1); t.setAttribute('y', cfg.y + cfg.size + 22);
    t.setAttribute('text-anchor', 'middle'); t.setAttribute('font-size', '17'); t.setAttribute('fill', '#111');
    t.innerHTML = lonTickLabels[i] + '<tspan font-size="10" dy="-2">°</tspan><tspan dy="2">W</tspan>';
  });

  /* colour bar */
  const bar = mk('g', g);
  
  
  const tri = cfg.size * 0.0457, bw = (cfg.size - 2 * tri) / 20, by = cfg.barY, bh = 16.7;
  const bx = v => cfg.x + tri + (v + cfg.vmax) / (2 * cfg.vmax) * bw * 20;
  const left = mk('polygon', bar);
  
  
  left.setAttribute('points', `${cfg.x},${by + bh / 2} ${cfg.x + tri},${by} ${cfg.x + tri},${by + bh}`);
  left.setAttribute('fill', bandColors[0]); left.setAttribute('stroke', '#222'); left.setAttribute('stroke-width', '0.8');
  const right = mk('polygon', bar);
  
  
  right.setAttribute('points', `${cfg.x + cfg.size},${by + bh / 2} ${cfg.x + cfg.size - tri},${by} ${cfg.x + cfg.size - tri},${by + bh}`);
  right.setAttribute('fill', bandColors[21]); right.setAttribute('stroke', '#222'); right.setAttribute('stroke-width', '0.8');
  for (let i = 0; i < 20; i++) {
    const b = mk('rect', bar);
    
    
    b.setAttribute('x', cfg.x + tri + i * bw); b.setAttribute('y', by);
    b.setAttribute('width', bw); b.setAttribute('height', bh);
    b.setAttribute('fill', bandColors[i + 1]); b.setAttribute('stroke', '#222'); b.setAttribute('stroke-width', '1');
  }
  cfg.barTicks.forEach((v, i) => {
    const t = mk('text', bar);
    
    
    t.setAttribute('x', bx(v)); t.setAttribute('y', by + 38);
    t.setAttribute('text-anchor', 'middle'); t.setAttribute('font-size', '17.5'); t.setAttribute('fill', '#111');
    t.textContent = cfg.barLabels[i];
  });
}

const windLegend = {dx: 16.7, w: 76.5, html: '2.5 ms<tspan font-size="10" dy="-7">-1</tspan>'};
const transLegendE = {dx: 16.7, w: 111.7, html: '0.05 kgm<tspan font-size="10" dy="-7">-1</tspan><tspan dy="7">s</tspan><tspan font-size="10" dy="-7">-1</tspan>'};
const transLegendF = {dx: 16, w: 112, html: '0.05 kgm<tspan font-size="10" dy="-7">-1</tspan><tspan dy="7">s</tspan><tspan font-size="10" dy="-7">-1</tspan>'};

[
 {id:'a', x:69, y:141, size:503, barY:684, vmax:2.5, field:fieldS, barTicks:massBarTicks, barLabels:massBarLabels,
  patches:[{value:accumulationDiamondValue, pts:accumulationDiamond}]},
 {id:'b', x:655, y:141, size:503, barY:684, vmax:2.5, field:fieldP, barTicks:massBarTicks, barLabels:massBarLabels},
 {id:'c', x:74, y:844.5, size:500, barY:1385, vmax:2.5, field:fieldQsurf, barTicks:massBarTicks, barLabels:massBarLabels,
  u:uWind, v:vWind, pxPerUnit:4.6, arrowColor:'#5a1e7d', legend:windLegend},
 {id:'d', x:658, y:844.5, size:500, barY:1385, vmax:2.5, barTicks:massBarTicks, barLabels:massBarLabels,
  patches:[{value:meltPatchAValue, pts:meltPatchA},{value:meltPatchBValue, pts:meltPatchB},{value:meltPatchCValue, pts:meltPatchC},{value:meltPatchDValue, pts:meltPatchD}]},
 {id:'e', x:74, y:1534, size:500, barY:2075, vmax:2.5, barTicks:massBarTicks, barLabels:massBarLabels,
  patches:[{value:qsnowBandValue, pts:qsnowBand},{value:qsnowStreakValue, pts:qsnowStreak}],
  u:uTrans, v:vTrans, pxPerUnit:0.2, arrowColor:'#4d2080', legend:transLegendE},
 {id:'f', x:658, y:1534, size:500, barY:2075, vmax:2.5, barTicks:massBarTicks, barLabels:massBarLabels,
  patches:[{value:driftBlobValue, pts:driftBlob},{value:driftCoreValue, pts:driftCore}],
  u:uTrans, v:vTrans, pxPerUnit:0.2, arrowColor:'#4d2080', legend:transLegendF},
 {id:'g', x:74, y:2219, size:500, barY:2759, vmax:10, field:fieldSpeed, barTicks:speedBarTicks, barLabels:speedBarLabels,
  u:uWind, v:vWind, pxPerUnit:4.6, arrowColor:'#4a22a8', legend:windLegend},
 {id:'h', x:658, y:2219, size:500, barY:2759, vmax:40, field:fieldHeat, barTicks:heatBarTicks, barLabels:heatBarLabels}
].forEach(drawPanel);
</script>
</body>
</html>
